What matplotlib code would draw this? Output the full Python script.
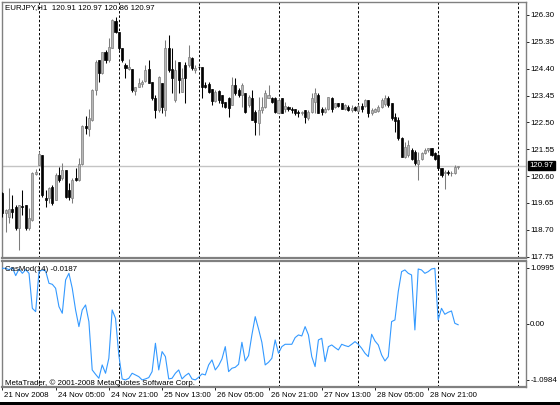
import matplotlib
matplotlib.use("Agg")
import matplotlib.pyplot as plt
import matplotlib.transforms as mtransforms
from matplotlib.patches import Rectangle
import numpy as np

# EURJPY H1, 138 bars
symbol = "EURJPY,H1"
opens = [119.99, 119.28, 119.16, 119.42, 119.52, 118.75, 119.54, 119.58, 118.75, 119.05,
         120.67, 120.99, 121.35, 119.84, 119.81, 120.23, 119.75, 120.64, 120.52, 120.82,
         120.11, 119.81, 120.52, 120.46, 121.03, 122.37, 122.25, 122.58, 123.65, 124.69,
         124.24, 125.00, 124.71, 125.12, 126.07, 125.71, 125.12, 124.53, 124.38, 124.38,
         123.62, 123.74, 123.86, 123.97, 124.38, 123.94, 123.35, 122.94, 123.90, 122.94,
         125.12, 124.38, 123.29, 124.65, 123.59, 124.53, 124.53, 124.77, 124.35, 124.47,
         124.47, 123.82, 123.86, 123.67, 123.27, 123.62, 123.47, 123.23, 123.38, 123.11,
         123.82, 123.65, 123.47, 123.53, 123.11, 123.35, 122.88, 122.47, 122.94, 123.06,
         123.35, 123.35, 123.35, 122.82, 123.35, 122.96, 123.03, 122.99, 122.96, 122.88,
         122.82, 122.94, 122.64, 122.88, 123.23, 123.47, 122.96, 122.88, 122.99, 123.35,
         123.05, 123.17, 123.17, 122.99, 123.05, 122.94, 123.05, 122.90, 123.09, 123.09,
         123.29, 122.82, 122.88, 122.90, 123.05, 123.14, 123.35, 123.17, 122.70, 122.58,
         121.93, 121.28, 121.34, 121.52, 121.46, 121.01, 121.22, 121.40, 121.52, 121.58,
         121.40, 121.34, 120.87, 120.70, 120.76, 120.70, 120.70, 120.91]
highs = [120.05, 119.42, 120.17, 119.93, 119.58, 119.58, 120.11, 119.58, 119.46, 120.76,
         120.84, 121.47, 121.35, 120.11, 120.23, 120.28, 120.70, 120.93, 121.05, 120.82,
         120.34, 120.52, 120.87, 121.23, 122.41, 122.73, 122.96, 123.67, 124.69, 124.71,
         125.00, 125.06, 125.47, 126.15, 126.24, 125.71, 125.12, 124.59, 124.73, 124.38,
         123.74, 124.06, 124.00, 124.53, 124.71, 123.94, 123.47, 124.14, 123.90, 125.41,
         125.60, 125.12, 124.71, 124.65, 124.41, 124.65, 125.24, 124.83, 124.53, 124.50,
         124.47, 123.94, 123.94, 123.67, 123.65, 123.65, 123.47, 123.23, 123.41, 124.12,
         124.06, 123.70, 123.88, 123.53, 123.47, 123.65, 122.94, 123.41, 123.41, 123.65,
         123.82, 123.41, 123.41, 123.38, 123.35, 123.23, 123.08, 123.05, 122.99, 122.94,
         122.90, 122.94, 122.94, 123.53, 123.70, 123.53, 123.05, 123.03, 123.41, 123.41,
         123.20, 123.20, 123.20, 123.14, 123.11, 123.11, 123.08, 123.14, 123.17, 123.33,
         123.29, 123.00, 123.00, 123.11, 123.37, 123.47, 123.44, 123.17, 122.82, 122.70,
         121.99, 121.81, 121.87, 121.58, 121.52, 121.46, 121.46, 121.58, 121.60, 121.58,
         121.46, 121.37, 120.90, 120.81, 120.81, 120.78, 120.99, 120.97]
lows = [119.16, 118.63, 118.93, 119.11, 118.69, 117.98, 119.22, 118.69, 118.69, 119.02,
        120.64, 120.99, 119.87, 119.52, 119.64, 119.58, 119.75, 120.40, 120.46, 119.81,
        119.75, 119.64, 120.44, 120.44, 120.99, 122.09, 122.02, 122.56, 123.47, 123.94,
        124.21, 124.59, 124.65, 125.12, 125.65, 125.06, 124.65, 124.06, 124.35, 123.59,
        123.47, 123.74, 123.76, 123.94, 123.88, 123.29, 122.64, 122.88, 122.82, 122.72,
        124.30, 123.53, 123.23, 123.53, 123.59, 123.17, 124.47, 124.35, 124.24, 124.40,
        123.35, 123.71, 123.53, 123.11, 123.23, 123.17, 123.05, 123.00, 122.70, 123.11,
        123.47, 123.40, 123.06, 122.82, 123.06, 122.58, 122.05, 122.05, 122.82, 123.00,
        123.35, 123.17, 122.82, 122.82, 122.82, 122.88, 122.90, 122.82, 122.76, 122.70,
        122.76, 122.47, 122.58, 122.82, 122.82, 122.82, 122.76, 122.82, 122.94, 122.88,
        123.00, 123.05, 122.96, 122.94, 122.90, 122.88, 122.90, 122.85, 122.88, 123.05,
        122.70, 122.76, 122.85, 122.88, 123.02, 123.09, 123.05, 122.58, 122.17, 121.87,
        121.28, 121.25, 121.28, 121.17, 120.99, 120.46, 121.17, 121.37, 121.46, 121.32,
        121.17, 120.81, 120.58, 120.14, 120.64, 120.61, 120.66, 120.86]
closes = [119.28, 119.40, 119.42, 119.34, 118.75, 119.58, 119.49, 118.75, 119.11, 120.70,
          120.76, 121.38, 119.93, 119.75, 120.17, 119.66, 120.64, 120.46, 120.82, 119.87,
          119.87, 120.46, 120.46, 121.03, 122.37, 122.29, 122.64, 123.65, 124.65, 124.24,
          125.00, 124.71, 125.18, 126.12, 125.71, 125.12, 124.71, 124.41, 124.47, 123.65,
          123.74, 123.88, 123.94, 124.35, 123.90, 123.35, 122.94, 124.12, 123.05, 125.12,
          124.35, 124.06, 124.35, 124.00, 124.06, 124.06, 124.83, 124.41, 124.41, 124.45,
          123.76, 123.74, 123.59, 123.27, 123.59, 123.29, 123.17, 123.05, 123.00, 123.82,
          123.53, 123.47, 123.82, 122.88, 123.41, 122.58, 122.52, 122.94, 123.06, 123.53,
          123.47, 123.23, 122.88, 123.29, 122.82, 123.08, 122.96, 122.94, 122.84, 122.82,
          122.88, 122.70, 122.88, 123.35, 123.53, 122.82, 122.88, 122.99, 123.41, 122.99,
          123.17, 123.08, 122.99, 123.11, 122.94, 123.02, 122.94, 123.09, 122.97, 123.29,
          122.82, 122.94, 122.97, 123.05, 123.29, 123.35, 123.11, 122.64, 122.55, 121.93,
          121.28, 121.64, 121.70, 121.22, 121.05, 121.17, 121.40, 121.52, 121.58, 121.34,
          121.22, 120.87, 120.64, 120.76, 120.70, 120.72, 120.93, 120.97]
casmod = [1.086, 1.086, 1.060, 1.099, 0.943, 1.073, 0.988, 1.060, 0.988, 0.303,
          0.238, 1.021, 1.054, 1.034, 0.793, 0.773, 0.695, 0.336, 0.206, 0.858,
          0.988, 0.695, 0.271, -0.055, 0.271, 0.369, 0.043, -0.903, -0.988, -1.066,
          -0.805, -0.968, -0.675, 0.271, 0.108, -0.610, -1.079, -1.098, -1.066, -0.968,
          -1.001, -1.034, -1.098, -1.079, -1.053, -0.936, -0.381, -0.903, -0.544, -0.642,
          -1.079, -1.066, -0.968, -0.903, -1.079, -1.014, -0.968, -1.079, -1.098, -1.047,
          -0.981, -1.001, -0.805, -0.707, -0.903, -0.818, -0.688, -0.447, -0.936, -0.870,
          -0.851, -0.792, -0.362, -0.727, -0.623, -0.218, 0.140, -0.101, -0.362, -0.805,
          -0.753, -0.675, -0.316, -0.577, -0.447, -0.401, -0.401, -0.401, -0.270, -0.218,
          -0.238, -0.055, -0.218, -0.642, -0.838, -0.316, -0.284, -0.740, -0.447, -0.414,
          -0.466, -0.512, -0.401, -0.427, -0.447, -0.401, -0.349, -0.401, -0.479, -0.577,
          -0.642, -0.205, -0.336, -0.414, -0.610, -0.727, -0.642, 0.043, 0.075, 0.630,
          1.021, 1.054, 0.988, 0.956, -0.120, 1.073, 1.054, 0.988, 1.021, 1.073,
          1.086, 0.075, 0.303, 0.186, 0.225, 0.251, 0.010, -0.0187]

label_bars = [0, 16, 32, 48, 64, 80, 96, 112, 128]
time_labels = ["21 Nov 2008", "24 Nov 05:00", "24 Nov 21:00", "25 Nov 13:00",
               "26 Nov 05:00", "26 Nov 21:00", "27 Nov 13:00", "28 Nov 05:00",
               "28 Nov 21:00"]
separator_bars = [11, 35, 59, 83, 107, 131, 155]
price_ticks = [126.30, 125.35, 124.40, 123.45, 122.50, 121.55, 120.60, 119.65, 118.70, 117.75]
ind_ticks = [1.0995, 0.0, -1.0984]
ind_labels = ["1.0995", "0.00", "-1.0984"]

plt.rcParams['font.family'] = ['Liberation Sans', 'DejaVu Sans']
FS = 5.7

W, H = 560, 405
fig = plt.figure(figsize=(W / 100, H / 100), dpi=100)
fig.patch.set_facecolor('white')


def px_box(x0, y0, x1, y1):
    return [x0 / W, 1 - y1 / H, (x1 - x0) / W, (y1 - y0) / H]


ax = fig.add_axes(px_box(2, 2, 526, 258))
ax2 = fig.add_axes(px_box(2, 261, 526, 387), sharex=ax)

x = np.arange(len(closes))
o = np.array(opens)
h = np.array(highs)
l = np.array(lows)
c = np.array(closes)
up = c >= o
body_lo = np.minimum(o, c)
body_h = np.maximum(np.abs(c - o), 0.025)

bull_face, bull_edge = '#b8b8b8', '#7c7c7c'
ax.vlines(x[up], l[up], h[up], color=bull_edge, lw=0.75, zorder=3)
ax.vlines(x[~up], l[~up], h[~up], color='black', lw=0.75, zorder=3)
ax.bar(x[up], body_h[up], bottom=body_lo[up], width=0.62, color=bull_face,
       edgecolor=bull_edge, lw=0.5, zorder=4)
ax.bar(x[~up], body_h[~up], bottom=body_lo[~up], width=0.62, color='black',
       edgecolor='black', lw=0.5, zorder=4)

# bid line
ax.axhline(closes[-1], color='#c4c4c4', lw=1.0, zorder=2)

ax2.plot(x, casmod, color='#3399ff', lw=0.8, zorder=3)

for a in (ax, ax2):
    for b in separator_bars:
        a.axvline(b, color='black', lw=0.7, ls=(0, (2.5, 2)), zorder=1)
    for s in a.spines.values():
        s.set_color('#808080')
        s.set_linewidth(1.0)
    a.yaxis.tick_right()
    a.tick_params(axis='y', direction='out', length=2, width=0.6, pad=1,
                  labelsize=FS, colors='black')

ax.spines['bottom'].set_linewidth(1.6)
ax2.spines['top'].set_linewidth(1.6)
ax2.spines['bottom'].set_linewidth(1.6)

ax.set_xlim(-0.12, 157.4)
ax.set_ylim(117.70, 126.76)
ax.set_yticks(price_ticks)
ax.set_yticklabels([f"{p:.2f}" for p in price_ticks])
ax.tick_params(axis='x', bottom=False, labelbottom=False)

ax2.set_ylim(-1.237, 1.229)
ax2.set_yticks(ind_ticks)
ax2.set_yticklabels(ind_labels)
ax2.set_xticks(label_bars)
ax2.set_xticklabels(time_labels, ha='left')
ax2.tick_params(axis='x', direction='out', length=2.5, width=0.6, pad=1,
                labelsize=FS, colors='black')
shift = mtransforms.ScaledTranslation(2 / 100, 0, fig.dpi_scale_trans)
for lab in ax2.get_xticklabels():
    lab.set_transform(lab.get_transform() + shift)

# current price box
tr = mtransforms.blended_transform_factory(ax.transAxes, ax.transData)
ax.text(1.007, closes[-1], f"{closes[-1]:.2f}", transform=tr, color='white',
        fontsize=FS, va='center', ha='left', zorder=6, clip_on=False,
        bbox=dict(facecolor='black', edgecolor='black', pad=0.9))

fig.text(5 / W, 1 - 8 / H,
         f"{symbol}  {opens[-1]:.2f} {highs[-1]:.2f} {lows[-1]:.2f} {closes[-1]:.2f}",
         fontsize=FS, va='center', ha='left')
fig.text(5 / W, 1 - 269.5 / H, f"CasMod(14) {casmod[-1]:.4f}",
         fontsize=FS, va='center', ha='left')
fig.text(5 / W, 1 - 383 / H, "MetaTrader, \u00a9 2001-2008 MetaQuotes Software Corp.",
         fontsize=FS, va='center', ha='left')

# window frame at the bottom
fig.patches.append(Rectangle((0, 0), 1, 3 / H, transform=fig.transFigure,
                             facecolor='black', edgecolor='none'))

fig.savefig("out.png", dpi=100)
